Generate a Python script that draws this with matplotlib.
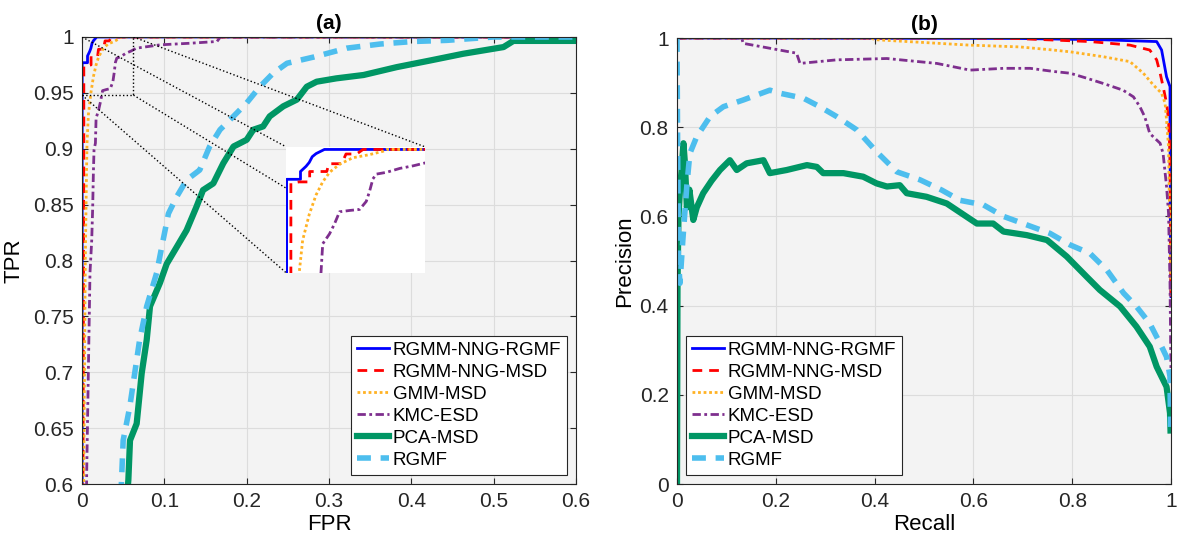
import matplotlib
matplotlib.use('Agg')
import matplotlib.pyplot as plt
from matplotlib.ticker import FixedLocator, FuncFormatter

plt.rcParams['font.family'] = ['Liberation Sans', 'DejaVu Sans']
plt.rcParams['lines.scale_dashes'] = False

labels = ['RGMM-NNG-RGMF', 'RGMM-NNG-MSD', 'GMM-MSD', 'KMC-ESD', 'PCA-MSD', 'RGMF']

# ---------------- (a) ROC data ----------------
roc_blue_fpr = [0, 0.0002, 0.0002, 0.0067, 0.0067, 0.0093, 0.0108, 0.0122, 0.014, 0.0179, 1.0]
roc_blue_tpr = [0, 0.5, 0.977, 0.977, 0.983, 0.987, 0.990, 0.9944, 0.9968, 1.0, 1.0]

roc_red_fpr = [0, 0.001, 0.0022, 0.0022, 0.006, 0.011, 0.011, 0.019, 0.020, 0.026, 0.028, 0.033, 0.036, 1.0]
roc_red_tpr = [0, 0.55, 0.90, 0.974, 0.975, 0.975, 0.983, 0.983, 0.989, 0.989, 0.9965, 0.9965, 1.0, 1.0]

roc_orange_fpr = [0, 0.002, 0.004, 0.0055, 0.0061, 0.0077, 0.0108, 0.014, 0.0171, 0.0203, 0.025, 0.0312, 0.039, 0.0454, 0.047, 1.0]
roc_orange_tpr = [0, 0.6, 0.8, 0.88, 0.905, 0.930, 0.950, 0.965, 0.975, 0.9824, 0.9886, 0.9936, 0.996, 0.9986, 1.0, 1.0]

roc_purple_fpr = [0, 0.005, 0.0057, 0.0077, 0.0097, 0.0118, 0.013, 0.0138, 0.0146, 0.0163, 0.0171, 0.0203,
                  0.0226, 0.025, 0.0297, 0.0344, 0.0375, 0.039, 0.0406, 0.0422, 0.047, 0.0532, 0.0595,
                  0.066, 0.095, 0.131, 0.164, 0.168, 1.0]
roc_purple_tpr = [0, 0.55, 0.61, 0.70, 0.789, 0.818, 0.848, 0.878, 0.899, 0.905, 0.9273, 0.935,
                  0.9426, 0.952, 0.953, 0.9538, 0.960, 0.9675, 0.9773, 0.981, 0.9824, 0.9854, 0.9874,
                  0.990, 0.993, 0.9944, 0.996, 1.0, 1.0]

roc_green_fpr = [0, 0.05, 0.0563, 0.0583, 0.0664, 0.0725, 0.0786, 0.0826, 0.0947, 0.1029, 0.115, 0.127,
                 0.139, 0.147, 0.1595, 0.1716, 0.184, 0.200, 0.208, 0.220, 0.228, 0.2445, 0.261, 0.273,
                 0.285, 0.309, 0.342, 0.382, 0.423, 0.463, 0.512, 0.524, 1.0]
roc_green_tpr = [0, 0.55, 0.6035, 0.639, 0.654, 0.699, 0.729, 0.759, 0.780, 0.797, 0.812, 0.827,
                 0.848, 0.863, 0.869, 0.887, 0.902, 0.908, 0.917, 0.920, 0.929, 0.938, 0.944, 0.9555,
                 0.960, 0.963, 0.966, 0.973, 0.979, 0.985, 0.991, 0.9965, 0.9965]

roc_lblue_fpr = [0, 0.045, 0.048, 0.050, 0.058, 0.064, 0.070, 0.0786, 0.0907, 0.0968, 0.105, 0.115,
                 0.127, 0.143, 0.155, 0.1676, 0.184, 0.200, 0.216, 0.232, 0.249, 0.281, 0.3215, 0.362,
                 0.4025, 0.443, 0.5, 1.0]
roc_lblue_tpr = [0, 0.55, 0.6035, 0.639, 0.669, 0.699, 0.729, 0.759, 0.789, 0.812, 0.842, 0.857,
                 0.872, 0.881, 0.902, 0.917, 0.929, 0.941, 0.9555, 0.9675, 0.9765, 0.982, 0.990, 0.9937,
                 0.996, 0.997, 1.0, 1.0]

# ---------------- (b) PR data ----------------
pr_blue_r = [0, 0.688, 0.863, 0.971, 0.981, 0.991, 0.998, 0.998, 0.999, 1.0]
pr_blue_p = [1.0, 0.999, 0.996, 0.992, 0.973, 0.913, 0.891, 0.80, 0.5, 0.42]

pr_red_r = [0, 0.55, 0.684, 0.836, 0.877, 0.917, 0.957, 0.971, 0.978, 0.984, 0.991, 0.995, 0.998, 1.0]
pr_red_p = [1.0, 1.0, 0.999, 0.992, 0.988, 0.984, 0.973, 0.951, 0.921, 0.891, 0.854, 0.816, 0.742, 0.42]

pr_orange_r = [0, 0.39, 0.404, 0.593, 0.694, 0.762, 0.796, 0.863, 0.917, 0.944, 0.964, 0.981, 0.988, 0.991, 0.995, 1.0]
pr_orange_p = [1.0, 1.0, 0.996, 0.984, 0.980, 0.973, 0.969, 0.958, 0.947, 0.921, 0.895, 0.876, 0.854, 0.816, 0.756, 0.42]

pr_purple_r = [0, 0.131, 0.134, 0.188, 0.242, 0.249, 0.323, 0.425, 0.526, 0.593, 0.661, 0.715, 0.762,
               0.796, 0.829, 0.863, 0.903, 0.924, 0.937, 0.947, 0.957, 0.978, 0.984, 0.991, 0.995, 0.998, 1.0]
pr_purple_p = [1.0, 1.0, 0.988, 0.977, 0.966, 0.943, 0.951, 0.954, 0.943, 0.928, 0.932, 0.932, 0.925,
               0.921, 0.910, 0.898, 0.883, 0.868, 0.846, 0.823, 0.786, 0.764, 0.741, 0.667, 0.607, 0.45, 0.24]

pr_green_r = [0, 0.001, 0.003, 0.006, 0.009, 0.013, 0.016, 0.020, 0.025, 0.033, 0.040, 0.053, 0.070,
              0.087, 0.107, 0.121, 0.141, 0.175, 0.188, 0.222, 0.263, 0.283, 0.296, 0.337, 0.377, 0.404,
              0.425, 0.451, 0.465, 0.505, 0.546, 0.607, 0.640, 0.661, 0.708, 0.749, 0.789, 0.829, 0.856,
              0.897, 0.930, 0.957, 0.971, 0.991, 0.998, 0.999]
pr_green_p = [0, 0.45, 0.60, 0.66, 0.70, 0.764, 0.72, 0.62, 0.66, 0.592, 0.62, 0.652, 0.68,
              0.704, 0.726, 0.704, 0.719, 0.726, 0.697, 0.704, 0.715, 0.711, 0.697, 0.697, 0.689, 0.674,
              0.667, 0.670, 0.652, 0.644, 0.629, 0.584, 0.584, 0.566, 0.558, 0.547, 0.510, 0.465, 0.435,
              0.398, 0.353, 0.308, 0.263, 0.218, 0.159, 0.12]

pr_lblue_r = [0, 0.001, 0.003, 0.006, 0.012, 0.020, 0.026, 0.040, 0.067, 0.094, 0.134, 0.188, 0.209,
              0.256, 0.289, 0.323, 0.364, 0.404, 0.445, 0.492, 0.536, 0.573, 0.620, 0.661, 0.708, 0.755,
              0.796, 0.836, 0.870, 0.904, 0.930, 0.957, 0.978, 0.991, 0.998, 0.999]
pr_lblue_p = [1.0, 0.8, 0.5, 0.45, 0.55, 0.67, 0.741, 0.779, 0.824, 0.846, 0.861, 0.883, 0.876,
              0.865, 0.846, 0.824, 0.794, 0.745, 0.70, 0.682, 0.659, 0.636, 0.626, 0.600, 0.581, 0.562,
              0.536, 0.517, 0.480, 0.428, 0.398, 0.360, 0.315, 0.285, 0.241, 0.128]

roc_xticks = [0, 0.1, 0.2, 0.3, 0.4, 0.5, 0.6]
roc_yticks = [0.6, 0.65, 0.7, 0.75, 0.8, 0.85, 0.9, 0.95, 1.0]
pr_ticks = [0, 0.2, 0.4, 0.6, 0.8, 1.0]

styles = [
    dict(color='#0000FF', lw=2.0, ls='-'),
    dict(color='#FF0000', lw=2.0, dashes=(7, 5)),
    dict(color='#FFB224', lw=2.0, dashes=(2, 2)),
    dict(color='#7E2F8E', lw=2.0, dashes=(6, 2.5, 2, 2.5)),
    dict(color='#009664', lw=4.5, ls='-'),
    dict(color='#4DBEEE', lw=4.0, dashes=(10, 7)),
]

fig = plt.figure(figsize=(11.8, 5.42), dpi=100)
axa = fig.add_axes([82 / 1180, 58 / 542, 494 / 1180, 447 / 542])
axb = fig.add_axes([677 / 1180, 58 / 542, 494 / 1180, 446 / 542])

fmt = FuncFormatter(lambda v, _: f'{v:g}')
for ax in (axa, axb):
    ax.set_facecolor('#F3F3F3')
    ax.set_axisbelow(True)
    ax.grid(True, color='#DCDCDC', lw=0.8)
    ax.tick_params(direction='in', length=4, top=True, right=True, labelsize=15,
                   color='#262626', labelcolor='#262626', pad=6)
    for s in ax.spines.values():
        s.set_color('#262626')
        s.set_linewidth(0.8)
    ax.xaxis.set_major_formatter(fmt)
    ax.yaxis.set_major_formatter(fmt)

roc_data = [(roc_blue_fpr, roc_blue_tpr), (roc_red_fpr, roc_red_tpr), (roc_orange_fpr, roc_orange_tpr),
            (roc_purple_fpr, roc_purple_tpr), (roc_green_fpr, roc_green_tpr), (roc_lblue_fpr, roc_lblue_tpr)]
pr_data = [(pr_blue_r, pr_blue_p), (pr_red_r, pr_red_p), (pr_orange_r, pr_orange_p),
           (pr_purple_r, pr_purple_p), (pr_green_r, pr_green_p), (pr_lblue_r, pr_lblue_p)]

for (x, y), st, lab in zip(roc_data, styles, labels):
    axa.plot(x, y, label=lab, **st)
for (x, y), st, lab in zip(pr_data, styles, labels):
    axb.plot(x, y, label=lab, **st)

axa.set_xlim(0, 0.6)
axa.set_ylim(0.6, 1.0)
axa.xaxis.set_major_locator(FixedLocator(roc_xticks))
axa.yaxis.set_major_locator(FixedLocator(roc_yticks))
axa.set_xlabel('FPR', fontsize=16, labelpad=2)
axa.set_ylabel('TPR', fontsize=16, labelpad=6)
axa.set_title('(a)', fontsize=15, fontweight='bold', pad=6)

axb.set_xlim(0, 1)
axb.set_ylim(0, 1)
axb.xaxis.set_major_locator(FixedLocator(pr_ticks))
axb.yaxis.set_major_locator(FixedLocator(pr_ticks))
axb.set_xlabel('Recall', fontsize=16, labelpad=2)
axb.set_ylabel('Precision', fontsize=16, labelpad=3)
axb.set_title('(b)', fontsize=15, fontweight='bold', pad=6)

leg_kw = dict(fontsize=13.5, frameon=True, fancybox=False, edgecolor='#262626',
              framealpha=1, handlelength=1.7, handletextpad=0.2, labelspacing=0.26,
              borderpad=0.3, borderaxespad=0.5)
lg = axa.legend(loc='lower right', **leg_kw)
lg.get_frame().set_linewidth(0.8)
lg = axb.legend(loc='lower left', **leg_kw)
lg.get_frame().set_linewidth(0.8)

# ---- zoom inset on (a) ----
src_x0, src_x1, src_y0, src_y1 = 0.0, 0.0625, 0.948, 1.0
ins_x0, ins_y0, ins_w, ins_h = 0.248, 0.789, 0.1686, 0.1127
axa.plot([src_x0, src_x1, src_x1], [src_y0, src_y0, src_y1], color='black', lw=1.0, ls=':', zorder=4)
corners = [((src_x0, src_y1), (ins_x0, ins_y0 + ins_h)),
           ((src_x1, src_y1), (ins_x0 + ins_w, ins_y0 + ins_h)),
           ((src_x0, src_y0), (ins_x0, ins_y0)),
           ((src_x1, src_y0), (ins_x0 + ins_w, ins_y0))]
for (a, b) in corners:
    axa.plot([a[0], b[0]], [a[1], b[1]], color='black', lw=1.0, ls=':', zorder=4)

ins = axa.inset_axes([ins_x0, ins_y0, ins_w, ins_h], transform=axa.transData)
ins.set_facecolor('white')
for (x, y), st in zip(roc_data[:4], styles[:4]):
    ins.plot(x, y, **st)
ins.set_xlim(0, 0.065)
ins.set_ylim(0.905, 1.002)
ins.set_xticks([])
ins.set_yticks([])
for s in ins.spines.values():
    s.set_visible(False)

fig.savefig('out.png', dpi=100)
